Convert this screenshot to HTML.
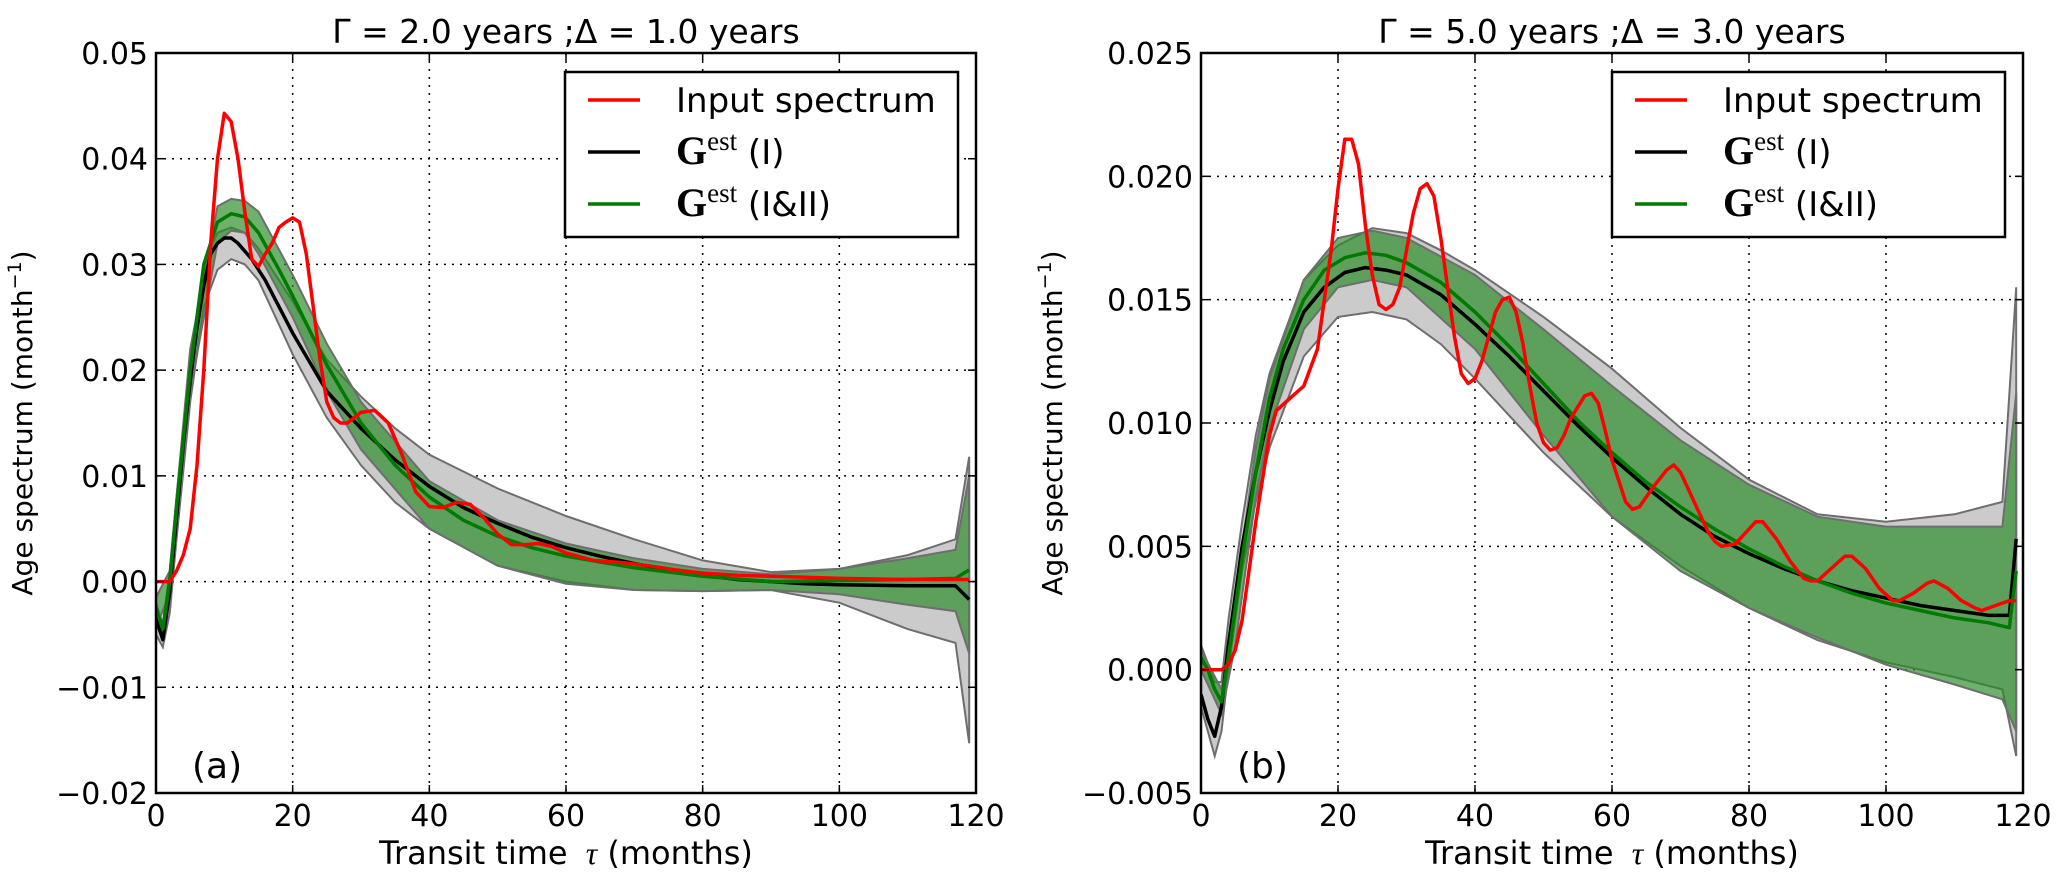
<!DOCTYPE html>
<html><head><meta charset="utf-8">
<style>
html,body{margin:0;padding:0;background:#fff;}
svg{display:block;}
text{font-family:"DejaVu Sans","Liberation Sans",sans-serif;fill:#000;}
</style></head>
<body>
<svg id="fig" width="2067" height="884" viewBox="0 0 2067 884" xmlns="http://www.w3.org/2000/svg"></svg>
<script>
// ---- Panel (a) data: [tau, value] ----
const aRed = [[0,0],[1,0],[2,0],[3,0.001],[4,0.0025],[5,0.005],[6,0.011],[7,0.02],[8,0.032],[9,0.04],[10,0.0443],[11,0.0435],[12,0.04],[13,0.035],[14,0.0305],[15,0.0298],[16,0.031],[17,0.032],[18,0.0335],[19,0.034],[20,0.0344],[21,0.034],[22,0.031],[23,0.026],[24,0.021],[25,0.017],[26,0.0155],[27,0.015],[28,0.015],[29,0.0155],[30,0.016],[32,0.0162],[34,0.015],[36,0.012],[38,0.0085],[40,0.0071],[42,0.007],[44,0.0075],[46,0.0073],[48,0.006],[50,0.0045],[52,0.0035],[54,0.0035],[56,0.0036],[58,0.0033],[60,0.0027],[64,0.002],[68,0.0018],[72,0.0015],[76,0.0011],[80,0.0008],[85,0.0006],[90,0.0005],[95,0.0004],[100,0.0003],[110,0.0002],[119,0.0002]];
const aBlack = [[0,-0.0035],[1,-0.0055],[2,-0.001],[3,0.006],[4,0.013],[5,0.019],[6,0.024],[7,0.028],[8,0.031],[9,0.032],[10,0.0325],[11,0.0325],[12,0.032],[14,0.0305],[16,0.0285],[18,0.026],[20,0.0235],[25,0.018],[30,0.0145],[35,0.0115],[40,0.009],[45,0.007],[50,0.0055],[55,0.0042],[60,0.0032],[65,0.0024],[70,0.0017],[75,0.0011],[80,0.0006],[85,0.0002],[90,0],[95,-0.0002],[100,-0.0003],[110,-0.0004],[117,-0.0004],[119,-0.0017]];
const aGreyUp = [[0,-0.002],[1,-0.004],[2,0.001],[3,0.008],[5,0.021],[7,0.03],[9,0.033],[11,0.0335],[13,0.033],[15,0.0315],[20,0.0265],[25,0.021],[30,0.0175],[35,0.0145],[40,0.012],[50,0.0088],[60,0.0062],[70,0.004],[80,0.002],[90,0.0009],[100,0.0012],[110,0.0025],[117,0.004],[119,0.0118]];
const aGreyLo = [[0,-0.005],[1,-0.0062],[2,-0.003],[3,0.004],[5,0.017],[7,0.026],[9,0.0295],[11,0.0305],[13,0.03],[15,0.0285],[20,0.0215],[25,0.0155],[30,0.011],[35,0.0075],[40,0.005],[50,0.0015],[60,0],[70,-0.0008],[80,-0.0009],[90,-0.0008],[100,-0.002],[110,-0.0045],[117,-0.0058],[119,-0.0153]];
const aGreen = [[0,-0.0025],[1,-0.0045],[2,0],[3,0.007],[5,0.02],[7,0.03],[9,0.034],[11,0.0348],[13,0.0345],[15,0.033],[18,0.0295],[20,0.027],[25,0.0205],[30,0.015],[35,0.011],[40,0.008],[45,0.0058],[50,0.0043],[55,0.0032],[60,0.0024],[70,0.0013],[80,0.0005],[90,0],[100,0.0001],[110,0.0002],[117,0.0003],[119,0.0011]];
const aGreenUp = [[0,-0.0015],[2,0.001],[5,0.022],[9,0.0355],[11,0.0362],[13,0.036],[15,0.035],[20,0.029],[25,0.0225],[30,0.017],[40,0.0095],[50,0.0058],[60,0.0036],[70,0.0022],[80,0.0012],[90,0.0007],[100,0.0012],[110,0.0022],[117,0.003],[119,0.010]];
const aGreenLo = [[0,-0.0045],[2,-0.001],[5,0.018],[9,0.032],[11,0.0332],[13,0.033],[15,0.031],[20,0.025],[25,0.018],[30,0.0125],[40,0.005],[50,0.0015],[60,-0.0002],[70,-0.0008],[80,-0.0009],[90,-0.0008],[100,-0.0012],[110,-0.0022],[117,-0.0028],[119,-0.0068]];
const aYTicks = ["0.05","0.04","0.03","0.02","0.01","0.00","\u22120.01","\u22120.02"];
const aYTickVals = [0.05,0.04,0.03,0.02,0.01,0,-0.01,-0.02];

// ---- Panel (b) data ----
const bRed = [[0,0],[3,0],[4,0.0002],[5,0.0008],[6,0.002],[7,0.004],[8,0.006],[10,0.0095],[11,0.0105],[13,0.011],[15,0.0115],[17,0.013],[19,0.017],[20,0.0195],[21,0.0215],[22,0.0215],[23,0.0205],[24,0.018],[25,0.016],[26,0.0148],[27,0.0146],[28,0.0148],[29,0.0155],[30,0.017],[31,0.0185],[32,0.0195],[33,0.0197],[34,0.0192],[35,0.0175],[36,0.0155],[37,0.0135],[38,0.012],[39,0.0116],[40,0.0118],[41,0.0125],[42,0.0135],[43,0.0145],[44,0.015],[45,0.0151],[46,0.0145],[47,0.0132],[48,0.0115],[49,0.01],[50,0.0092],[51,0.0089],[52,0.009],[53,0.0095],[54,0.0102],[56,0.0111],[57,0.0112],[58,0.0108],[59,0.0097],[60,0.0085],[62,0.0068],[63,0.0065],[64,0.0066],[66,0.0074],[68,0.0081],[69,0.0083],[70,0.008],[72,0.0068],[74,0.0056],[75,0.0052],[76,0.005],[78,0.0051],[80,0.0057],[81,0.006],[82,0.006],[84,0.0053],[86,0.0044],[88,0.0037],[89,0.0036],[90,0.0036],[92,0.0041],[94,0.0046],[95,0.0046],[97,0.0041],[99,0.0033],[101,0.0028],[102,0.0028],[104,0.0031],[106,0.0035],[107,0.0036],[109,0.0033],[111,0.0028],[113,0.0025],[114,0.0024],[116,0.0026],[118,0.0028],[119,0.0028]];
const bBlack = [[0,-0.001],[1,-0.002],[2,-0.0027],[3,-0.0015],[4,0.001],[5,0.003],[6,0.005],[8,0.008],[10,0.0105],[12,0.0125],[15,0.0145],[18,0.0155],[21,0.0161],[24,0.0163],[27,0.0162],[30,0.016],[35,0.0152],[40,0.014],[45,0.0127],[50,0.0113],[55,0.0099],[60,0.0086],[65,0.0074],[70,0.0063],[75,0.0054],[80,0.0047],[85,0.0041],[90,0.0036],[95,0.0032],[100,0.0029],[105,0.0026],[110,0.0024],[115,0.0022],[118,0.0022],[119,0.0053]];
const bGreyUp = [[0,0.001],[2,-0.0005],[3,-0.0005],[4,0.002],[6,0.006],[8,0.0095],[10,0.012],[15,0.0158],[20,0.0172],[25,0.0179],[30,0.0177],[35,0.017],[40,0.0162],[50,0.0143],[60,0.0122],[70,0.0098],[80,0.0077],[90,0.0063],[100,0.006],[110,0.0063],[117,0.0068],[119,0.0155]];
const bGreyLo = [[0,-0.0015],[2,-0.0035],[3,-0.0025],[4,0],[6,0.004],[8,0.0068],[10,0.009],[15,0.0127],[20,0.0143],[25,0.0145],[30,0.0142],[35,0.0132],[40,0.0118],[50,0.0088],[60,0.0062],[70,0.0042],[80,0.0025],[90,0.0012],[100,0.0003],[110,-0.0003],[117,-0.0008],[119,-0.0035]];
const bGreen = [[0,0.0005],[1,0],[2,-0.0008],[3,-0.0013],[4,0.0005],[6,0.0045],[8,0.008],[10,0.011],[12,0.013],[15,0.015],[18,0.0162],[21,0.0167],[24,0.0169],[27,0.0168],[30,0.0165],[35,0.0157],[40,0.0145],[45,0.0131],[50,0.0116],[55,0.0101],[60,0.0088],[65,0.0076],[70,0.0066],[75,0.0057],[80,0.0049],[85,0.0042],[90,0.0036],[95,0.0031],[100,0.0027],[105,0.0024],[110,0.0021],[115,0.0019],[118,0.0017],[119,0.004]];
const bGreenUp = [[0,0.0008],[3,-0.0008],[5,0.003],[8,0.009],[10,0.0118],[15,0.0158],[20,0.0175],[25,0.0178],[30,0.0175],[40,0.016],[50,0.0138],[60,0.0115],[70,0.0093],[80,0.0075],[90,0.0062],[100,0.0058],[110,0.0058],[117,0.0058],[119,0.0112]];
const bGreenLo = [[0,0],[3,-0.0018],[5,0.001],[8,0.007],[10,0.0098],[15,0.0138],[20,0.0155],[25,0.0158],[30,0.0155],[40,0.013],[50,0.0095],[60,0.0062],[70,0.004],[80,0.0025],[90,0.0013],[100,0.0002],[110,-0.0006],[117,-0.0012],[119,-0.0025]];
const bYTicks = ["0.025","0.020","0.015","0.010","0.005","0.000","\u22120.005"];
const bYTickVals = [0.025,0.02,0.015,0.01,0.005,0,-0.005];

const xTickVals = [0,20,40,60,80,100,120];

const NS = "http://www.w3.org/2000/svg";
const svg = document.getElementById('fig');
function mk(tag, attrs, parent){
  const e = document.createElementNS(NS, tag);
  for (const k in attrs) e.setAttribute(k, attrs[k]);
  (parent||svg).appendChild(e);
  return e;
}

function panel(cfg){
  const g = mk('g', {});
  
  
  const L=cfg.left, R=cfg.right, T=53, B=793;
  const sx = v => L + (v-0)/(120-0)*(R-L);
  const sy = v => T + (cfg.ymax - v)/(cfg.ymax-cfg.ymin)*(B-T);
  const cid = 'clip-'+cfg.name;
  const cp = mk('clipPath', {id:cid}, g);
  mk('rect', {x:L, y:T, width:R-L, height:B-T}, cp);
  const grid = mk('g', {stroke:'#000','stroke-width':1.5,'stroke-dasharray':'2,6'}, g);
  
  
  xTickVals.forEach(v=>{ if(v>0&&v<120) mk('line',{x1:sx(v),x2:sx(v),y1:T,y2:B},grid); });
  cfg.yVals.forEach(v=>{ if(v<cfg.ymax&&v>cfg.ymin) mk('line',{x1:L,x2:R,y1:sy(v),y2:sy(v)},grid); });
  const plot = mk('g', {'clip-path':'url(#'+cid+')'}, g);
  function band(up, lo, fill, nm){
    let d = up.map((p,i)=>(i?'L':'M')+sx(p[0]).toFixed(1)+','+sy(p[1]).toFixed(1)).join('');
    d += lo.slice().reverse().map(p=>'L'+sx(p[0]).toFixed(1)+','+sy(p[1]).toFixed(1)).join('')+'Z';
    const e = mk('path', {d:d, fill:fill, stroke:'#6e6e6e','stroke-width':2}, plot);
    
    
  }
  function line(pts, col, nm){
    const d = pts.map((p,i)=>(i?'L':'M')+sx(p[0]).toFixed(1)+','+sy(p[1]).toFixed(1)).join('');
    const e = mk('path', {d:d, fill:'none', stroke:col,'stroke-width':3.5,'stroke-linejoin':'round'}, plot);
    
    
  }
  band(cfg.greyUp, cfg.greyLo, '#cbcbcb', 'band-grey-I');
  band(cfg.greenUp, cfg.greenLo, 'rgba(40,140,40,0.68)', 'band-green-I-II');
  line(cfg.black, '#000', 'line-gest-I');
  line(cfg.green, '#007a00', 'line-gest-I-II');
  line(cfg.red, '#ff0000', 'line-input-spectrum');
  const fr = mk('rect', {x:L, y:T, width:R-L, height:B-T, fill:'none', stroke:'#000','stroke-width':2.5}, g);
  
  
  xTickVals.forEach(v=>{
    mk('line',{x1:sx(v),x2:sx(v),y1:B,y2:B-8,stroke:'#000','stroke-width':1.5},g);
    mk('line',{x1:sx(v),x2:sx(v),y1:T,y2:T+8,stroke:'#000','stroke-width':1.5},g);
    const t = mk('text',{x:sx(v),y:826,'font-size':30,'text-anchor':'middle'},g);
    t.textContent = String(v);
    
    
  });
  cfg.yVals.forEach((v,i)=>{
    mk('line',{x1:L,x2:L+8,y1:sy(v),y2:sy(v),stroke:'#000','stroke-width':1.5},g);
    mk('line',{x1:R,x2:R-8,y1:sy(v),y2:sy(v),stroke:'#000','stroke-width':1.5},g);
    const t = mk('text',{x:L-8,y:sy(v)+11,'font-size':30,'text-anchor':'end'},g);
    t.textContent = cfg.yTicks[i];
    
    
  });
  const cx = (L+R)/2;
  const tt = mk('text',{x:cx,y:43,'font-size':33,'text-anchor':'middle'},g);
  tt.textContent = cfg.title;
  
  
  const xl = mk('text',{x:cx,y:864,'font-size':32,'text-anchor':'middle'},g);
  xl.innerHTML = 'Transit time <tspan font-style="italic" font-family="Liberation Serif, serif">&#160;τ</tspan> (months)';
  
  
  const yc = (T+B)/2;
  const yl = mk('text',{x:cfg.ylx,y:yc,'font-size':28,'text-anchor':'middle',transform:'rotate(-90 '+cfg.ylx+' '+yc+')'},g);
  yl.innerHTML = 'Age spectrum (month<tspan dy="-11" font-size="19">\u22121</tspan><tspan dy="11">)</tspan>';
  
  
  const pl = mk('text',{x:L+36,y:778,'font-size':36},g);
  pl.textContent = cfg.label;
  
  
  const lg = mk('g',{},g);
  
  
  const lx = R-18-393;
  mk('rect',{x:lx,y:72,width:393,height:165,fill:'#fff',stroke:'#000','stroke-width':2.5},lg);
  const items = [['#ff0000','Input spectrum',0],['#000','(I)',1],['#007a00','(I&amp;II)',1]];
  items.forEach((it,i)=>{
    const y = 100 + i*52;
    const le = mk('g',{},lg);
    
    
    mk('line',{x1:lx+23,x2:lx+75,y1:y,y2:y,stroke:it[0],'stroke-width':3.5},le);
    const t = mk('text',{x:lx+111,y:y+12,'font-size':34},le);
    if(it[2]){
      t.innerHTML = '<tspan font-family="Liberation Serif, serif" font-weight="bold" font-size="40">G</tspan><tspan font-family="Liberation Serif, serif" font-size="27" dy="-14">est</tspan><tspan dy="14">  '+it[1]+'</tspan>';
      t.setAttribute('xml:space','preserve');
    } else t.innerHTML = it[1];
  });
}

panel({name:'panel-a', left:156, right:976, ymax:0.05, ymin:-0.02, yVals:aYTickVals, yTicks:aYTicks,
  red:aRed, black:aBlack, green:aGreen, greyUp:aGreyUp, greyLo:aGreyLo, greenUp:aGreenUp, greenLo:aGreenLo,
  title:'Γ = 2.0 years ;Δ = 1.0 years', label:'(a)', ylx:32});
panel({name:'panel-b', left:1201, right:2023, ymax:0.025, ymin:-0.005, yVals:bYTickVals, yTicks:bYTicks,
  red:bRed, black:bBlack, green:bGreen, greyUp:bGreyUp, greyLo:bGreyLo, greenUp:bGreenUp, greenLo:bGreenLo,
  title:'Γ = 5.0 years ;Δ = 3.0 years', label:'(b)', ylx:1062});
</script>
</body></html>
